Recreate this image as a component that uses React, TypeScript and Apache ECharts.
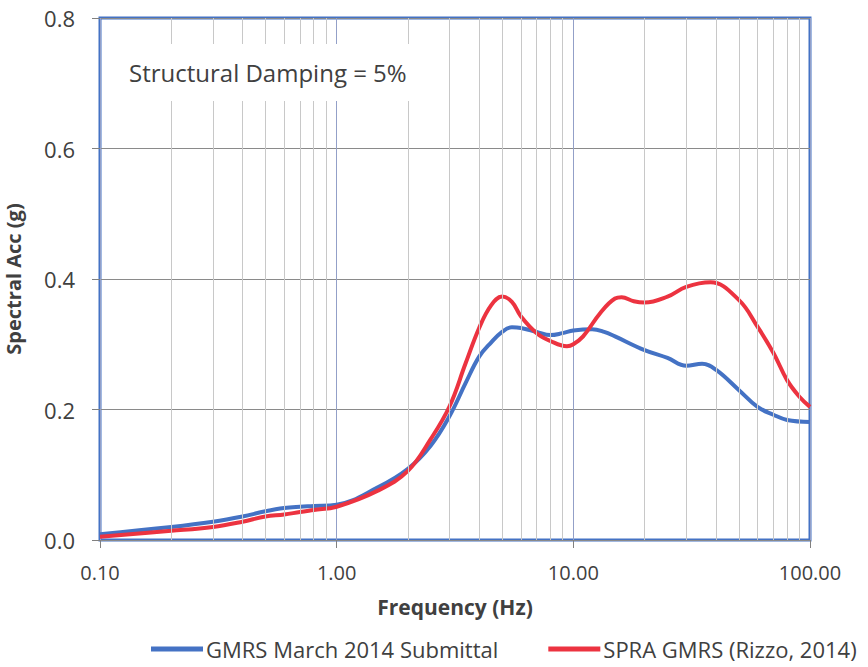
import React, { useEffect, useRef } from "react";
import * as echarts from "echarts";

const blueFreq = [0.1, 0.2, 0.3, 0.4, 0.5, 0.6, 0.7, 0.8, 1, 1.5, 2, 2.5, 3, 3.5, 4, 4.5, 5, 5.5, 6, 7, 8, 9, 10, 12, 13.5, 15, 20, 25, 30, 35, 40, 50, 60, 70, 80, 100];
const blueVals = [0.009, 0.02, 0.028, 0.036, 0.044, 0.049, 0.051, 0.052, 0.054, 0.081, 0.109, 0.145, 0.19, 0.24, 0.281, 0.303, 0.319, 0.326, 0.325, 0.319, 0.314, 0.317, 0.321, 0.323, 0.319, 0.312, 0.291, 0.279, 0.267, 0.27, 0.261, 0.23, 0.204, 0.192, 0.184, 0.181];

const redFreq = [0.1, 0.2, 0.3, 0.4, 0.5, 0.6, 0.7, 0.8, 1, 1.5, 2, 2.5, 3, 3.5, 4, 4.5, 5, 5.5, 6, 7, 8, 9.4, 10, 11, 13, 15, 16, 18, 20, 25, 30, 38, 50, 60, 70, 80, 90, 100];
const redVals = [0.005, 0.014, 0.02, 0.028, 0.036, 0.039, 0.043, 0.046, 0.051, 0.076, 0.106, 0.155, 0.205, 0.27, 0.325, 0.36, 0.373, 0.365, 0.343, 0.317, 0.305, 0.297, 0.3, 0.312, 0.348, 0.37, 0.372, 0.366, 0.364, 0.373, 0.388, 0.395, 0.368, 0.327, 0.287, 0.245, 0.22, 0.204];

const minorGrid = [0.2, 0.3, 0.4, 0.5, 0.6, 0.7, 0.8, 0.9, 2, 3, 4, 5, 6, 7, 8, 9, 20, 30, 40, 50, 60, 70, 80, 90];

const seriesNames = ["GMRS March 2014 Submittal", "SPRA GMRS (Rizzo, 2014)"];
const annotation = "Structural Damping = 5%";

const FONT = "'Open Sans', sans-serif";
const TXT = "#404040";

export default function App() {
  const ref = useRef<HTMLDivElement>(null);
  useEffect(() => {
    const chart = echarts.init(ref.current!, null, { renderer: "svg" });
    chart.setOption({
      animation: false,
      backgroundColor: "#ffffff",
      textStyle: { fontFamily: FONT },
      grid: {
        left: 100,
        right: 58,
        top: 18,
        bottom: 127,
        show: true,
        outerBoundsMode: "none",
        containLabel: false,
        borderColor: "#4472C4",
        borderWidth: 3,
        backgroundColor: "transparent",
      },
      xAxis: {
        type: "log",
        logBase: 10,
        min: 0.1,
        max: 100,
        name: "Frequency (Hz)",
        nameLocation: "middle",
        nameGap: 56,
        nameTextStyle: { fontFamily: FONT, fontSize: 21, fontWeight: "bold", color: TXT },
        axisLine: { show: false },
        axisTick: { show: true, length: 8, inside: false, lineStyle: { color: "#808080", width: 1 } },
        axisLabel: {
          fontFamily: FONT,
          fontSize: 20,
          color: TXT,
          margin: 22,
          formatter: (v: number) => v.toFixed(2),
        },
        splitLine: { show: true, lineStyle: { color: "#93a0c8", width: 1 } },
      },
      yAxis: {
        type: "value",
        min: 0,
        max: 0.8,
        interval: 0.2,
        name: "Spectral Acc (g)",
        nameLocation: "middle",
        nameGap: 76,
        nameTextStyle: { fontFamily: FONT, fontSize: 20, fontWeight: "bold", color: TXT, lineHeight: 22 },
        axisLine: { show: false },
        axisTick: { show: true, length: 8, lineStyle: { color: "#808080", width: 1 } },
        axisLabel: {
          fontFamily: FONT,
          fontSize: 22,
          color: TXT,
          margin: 25,
          formatter: (v: number) => v.toFixed(1),
        },
        splitLine: { show: true, lineStyle: { color: "#8a8a8a", width: 1 } },
      },
      legend: {
        bottom: 2,
        left: 146,
        icon: "rect",
        itemWidth: 52,
        itemHeight: 5,
        itemGap: 50,
        textStyle: { fontFamily: FONT, fontSize: 22, color: TXT, padding: [0, 0, 0, -2] },
        data: seriesNames,
      },
      graphic: [
        { type: "rect", z: 50, shape: { x: 104, y: 44, width: 326, height: 57 }, style: { fill: "#ffffff" } },
        {
          type: "text",
          z: 51,
          x: 129,
          y: 72,
          style: { text: annotation, fontFamily: FONT, fontSize: 24, fill: TXT, textVerticalAlign: "middle" },
        },
      ],
      series: [
        {
          name: "minor",
          type: "line",
          data: [],
          silent: true,
          symbol: "none",
          z: 1,
          markLine: {
            silent: true,
            symbol: "none",
            label: { show: false },
            lineStyle: { color: "#c8c8c8", width: 1, type: "solid" },
            data: minorGrid.map((v) => ({ xAxis: v })),
          },
        },
        {
          name: seriesNames[0],
          type: "line",
          data: blueFreq.map((f, i) => [f, blueVals[i]]),
          symbol: "none",
          smooth: 0.4,
          lineStyle: { color: "#4472C4", width: 4 },
          itemStyle: { color: "#4472C4" },
          z: 3,
        },
        {
          name: seriesNames[1],
          type: "line",
          data: redFreq.map((f, i) => [f, redVals[i]]),
          symbol: "none",
          smooth: 0.4,
          lineStyle: { color: "#EC3340", width: 4 },
          itemStyle: { color: "#EC3340" },
          z: 4,
        },
      ],
    });
    return () => chart.dispose();
  }, []);
  return (
    <div
      ref={ref}
      style={{ position: "absolute", left: 0, top: 0, width: 868, height: 667 }}
    />
  );
}
